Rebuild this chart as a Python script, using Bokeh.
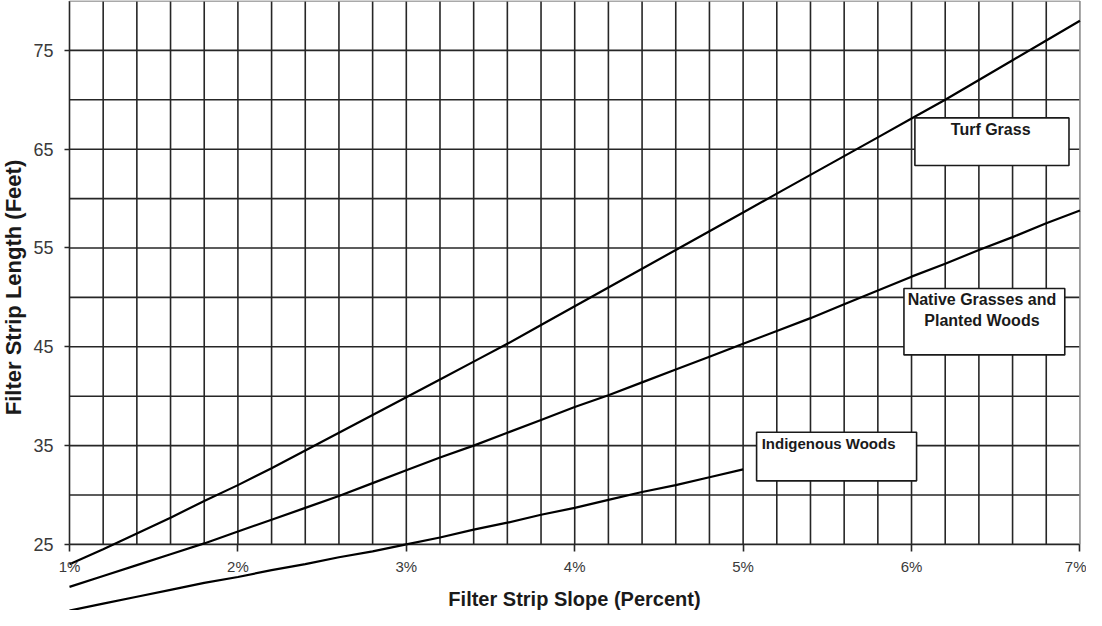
import numpy as np
from bokeh.plotting import figure
from bokeh.models import LinearAxis, FixedTicker, Range1d, BoxAnnotation, Label
from bokeh.embed import file_html
from bokeh.resources import INLINE

# ---- data ----
slope_pct = [1.0, 1.2, 1.4, 1.6, 1.8, 2.0, 2.2, 2.4, 2.6, 2.8, 3.0, 3.2, 3.4, 3.6, 3.8,
             4.0, 4.2, 4.4, 4.6, 4.8, 5.0, 5.2, 5.4, 5.6, 5.8, 6.0, 6.2, 6.4, 6.6, 6.8, 7.0]
turf_grass = [23.0, 24.5, 26.1, 27.7, 29.4, 31.0, 32.7, 34.5, 36.3, 38.1, 39.9, 41.7, 43.5, 45.3, 47.2,
              49.1, 51.0, 52.9, 54.8, 56.7, 58.6, 60.5, 62.4, 64.3, 66.2, 68.1, 70.0, 72.0, 74.0, 76.0, 78.0]
native_grasses = [20.7, 21.8, 22.9, 24.0, 25.1, 26.3, 27.5, 28.7, 29.9, 31.2, 32.5, 33.8, 35.0, 36.3, 37.6,
                  38.9, 40.1, 41.4, 42.7, 44.0, 45.3, 46.6, 47.9, 49.3, 50.7, 52.1, 53.4, 54.8, 56.1, 57.5, 58.8]
indigenous_slope = [1.0, 1.2, 1.4, 1.6, 1.8, 2.0, 2.2, 2.4, 2.6, 2.8, 3.0, 3.2, 3.4, 3.6, 3.8,
                    4.0, 4.2, 4.4, 4.6, 4.8, 5.0]
indigenous_woods = [18.3, 19.0, 19.7, 20.4, 21.1, 21.7, 22.4, 23.0, 23.7, 24.3, 25.0, 25.7, 26.5, 27.2, 28.0,
                    28.7, 29.5, 30.3, 31.0, 31.8, 32.6]

x_ticks = [1, 2, 3, 4, 5, 6, 7]
x_tick_labels = ["1%", "2%", "3%", "4%", "5%", "6%", "7%"]
y_ticks = [25, 35, 45, 55, 65, 75]

x_min, x_max = 1.0, 7.0
y_min, y_max = 25.0, 80.0
x_grid_step = 0.2
y_grid_step = 5.0

FONT = "Liberation Sans"
INK = "#1a1a1a"

# frame fills the whole figure; axes are pinned inside it
p = figure(width=1086, height=610,
           x_range=Range1d(0.5903, 7.039), y_range=Range1d(18.31, 80.05),
           x_axis_type=None, y_axis_type=None,
           output_backend="svg", toolbar_location=None,
           min_border_left=0, min_border_right=0, min_border_top=0, min_border_bottom=0,
           outline_line_color=None, background_fill_color="white", border_fill_color="white")

# grid (only over the 25-80 band)
gx = np.round(np.arange(x_min, x_max + 1e-9, x_grid_step), 2)
gy = np.arange(y_min, y_max + 1e-9, y_grid_step)
inner_x = gx[gx < x_max]
inner_y = gy[gy < y_max]
p.segment(x0=inner_x, y0=y_min, x1=inner_x, y1=y_max, line_color="#262626", line_width=1.6)
p.segment(x0=x_min, y0=inner_y, x1=x_max, y1=inner_y, line_color="#262626", line_width=1.6)
p.segment(x0=[x_max], y0=[y_min], x1=[x_max], y1=[y_max], line_color="#8c8c8c", line_width=1.6)
p.segment(x0=[x_min], y0=[y_max], x1=[x_max], y1=[y_max], line_color="#8c8c8c", line_width=1.6)

# data lines
p.line(slope_pct, turf_grass, line_color="black", line_width=2.2)
p.line(slope_pct, native_grasses, line_color="black", line_width=2.2)
p.line(indigenous_slope, indigenous_woods, line_color="black", line_width=2.2)

# axes (bounds only steer tick extent and the title's centre; no axis line is drawn)
yaxis = LinearAxis(ticker=FixedTicker(ticks=y_ticks), bounds=(22, y_max), fixed_location=x_min,
                   axis_line_color=None, major_tick_out=5, major_tick_in=0,
                   major_tick_line_color="#262626", major_tick_line_width=1.6,
                   minor_tick_line_color=None,
                   major_label_text_font=FONT, major_label_text_font_size="18px",
                   major_label_text_color="#3a3a3a", major_label_standoff=11,
                   axis_label="Filter Strip Length (Feet)",
                   axis_label_text_font=FONT, axis_label_text_font_size="22px",
                   axis_label_text_font_style="bold", axis_label_text_color=INK,
                   axis_label_standoff=4)
p.add_layout(yaxis, "left")

xaxis = LinearAxis(ticker=FixedTicker(ticks=x_ticks), bounds=(x_min, x_max), fixed_location=y_min,
                   axis_line_color=None, major_tick_out=7, major_tick_in=0,
                   major_tick_line_color="#262626", major_tick_line_width=1.6,
                   minor_tick_line_color=None,
                   major_label_overrides=dict(zip(x_ticks, x_tick_labels)),
                   major_label_text_font=FONT, major_label_text_font_size="15px",
                   major_label_text_color="#3a3a3a", major_label_standoff=7,
                   axis_label="Filter Strip Slope (Percent)",
                   axis_label_text_font=FONT, axis_label_text_font_size="20px",
                   axis_label_text_font_style="bold", axis_label_text_color=INK,
                   axis_label_standoff=9)
p.add_layout(xaxis, "below")

# labelled boxes
def box(l, r, b, t):
    p.add_layout(BoxAnnotation(left=l, right=r, bottom=b, top=t,
                               fill_color="white", fill_alpha=1.0,
                               line_color=INK, line_alpha=1.0, line_width=1.6))

def label(x, y, text, align="center", size="16px"):
    p.add_layout(Label(x=x, y=y, text=text, text_align=align, text_baseline="middle",
                       text_font=FONT, text_font_size=size, text_font_style="bold",
                       text_color=INK))

box(6.02, 6.935, 63.35, 68.17)
label(6.47, 66.97, "Turf Grass")

box(5.955, 6.91, 44.18, 50.9)
label(6.418, 49.8, "Native Grasses and")
label(6.418, 47.7, "Planted Woods")

box(5.08, 6.03, 31.43, 36.35)
label(5.11, 35.24, "Indigenous Woods", align="left", size="15px")

open("out.html", "w").write(file_html(p, INLINE))
